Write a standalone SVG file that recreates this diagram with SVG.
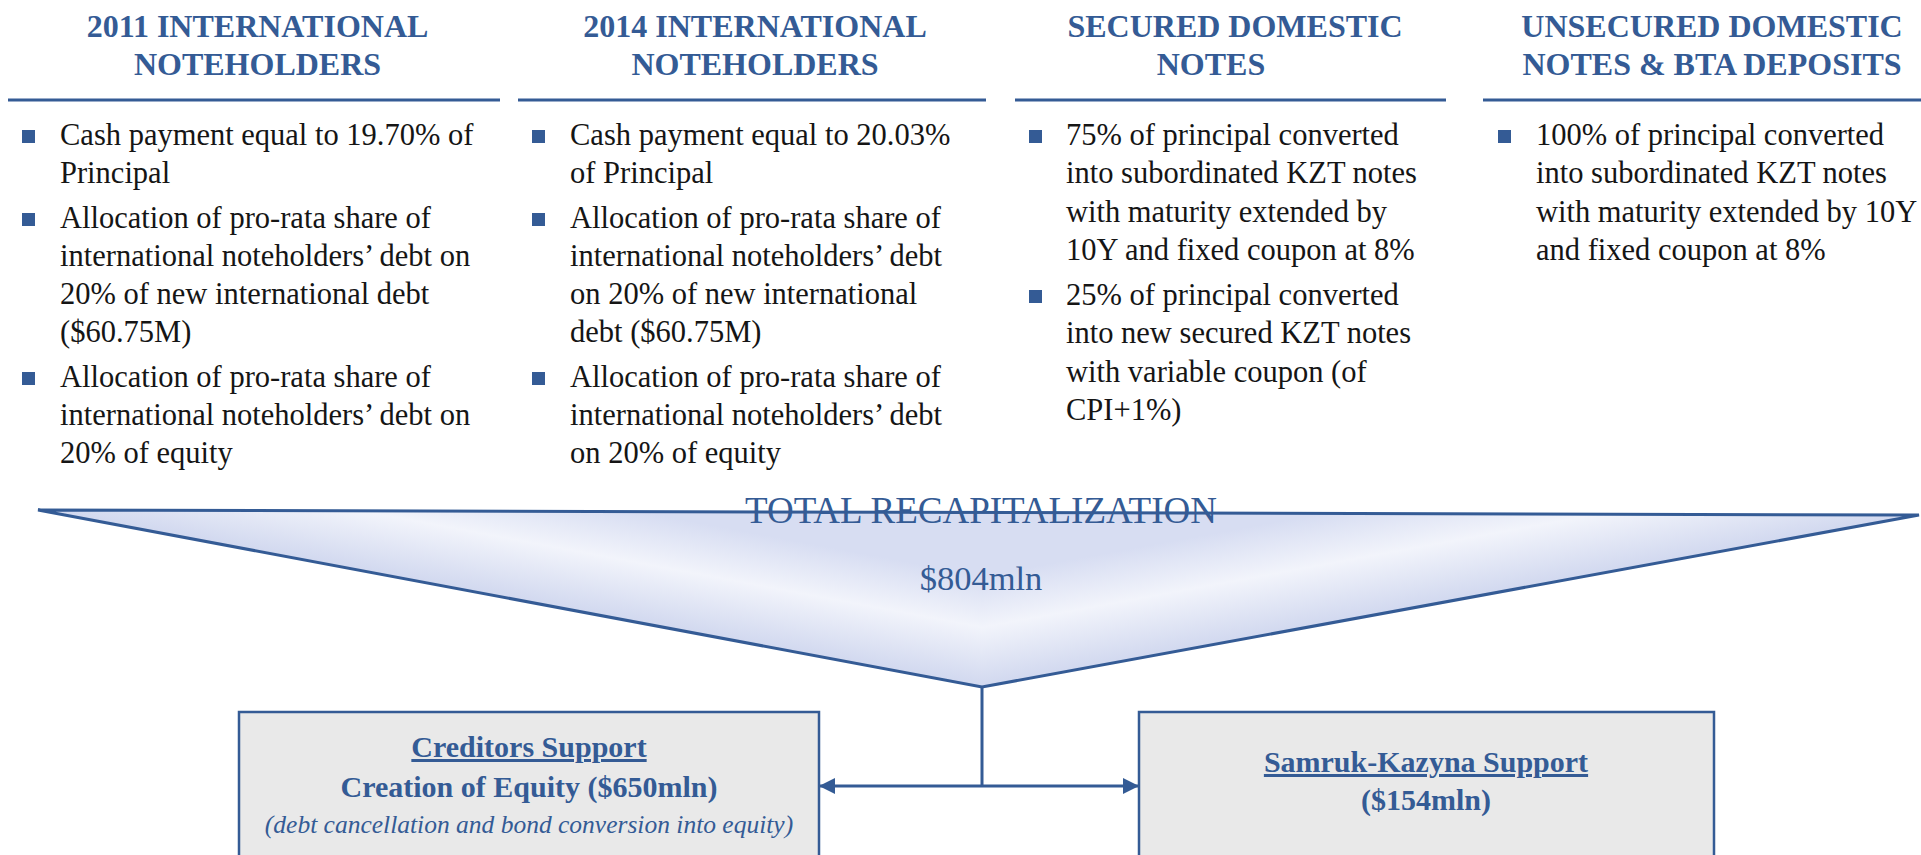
<svg xmlns="http://www.w3.org/2000/svg" width="1921" height="855" viewBox="0 0 1921 855">
  <style>
    .hdr { font-family: "Liberation Serif", "Times New Roman", serif; font-weight: bold; font-size: 32px; fill: #345b95; text-anchor: middle; }
    .rule { stroke: #345b95; stroke-width: 3; }
    .body { font-family: "Liberation Serif", "Times New Roman", serif; font-size: 30.5px; fill: #151515; }
    .bullet { fill: #345b95; }
    .tri-text { font-family: "Liberation Serif", "Times New Roman", serif; fill: #345b95; text-anchor: middle; }
    .box { fill: #e9e9e9; stroke: #345b95; stroke-width: 2.5; }
    .box-title { font-family: "Liberation Serif", "Times New Roman", serif; font-weight: bold; font-size: 30px; fill: #345b95; text-anchor: middle; }
    .box-note { font-family: "Liberation Serif", "Times New Roman", serif; font-style: italic; font-size: 25.5px; fill: #345b95; text-anchor: middle; }
    .conn { stroke: #345b95; stroke-width: 3; fill: none; }
  </style>
  <defs>
    <linearGradient id="fillLeft" gradientUnits="userSpaceOnUse" x1="510" y1="598.5" x2="535.8" y2="460.9">
      <stop offset="0" stop-color="#d1d8ef"/>
      <stop offset="0.42" stop-color="#f2f4fb"/>
      <stop offset="0.78" stop-color="#d7ddf2"/>
      <stop offset="1" stop-color="#d7ddf2"/>
    </linearGradient>
    <linearGradient id="fillRight" gradientUnits="userSpaceOnUse" x1="1450.5" y1="601" x2="1425.2" y2="463.3">
      <stop offset="0" stop-color="#d1d8ef"/>
      <stop offset="0.42" stop-color="#f2f4fb"/>
      <stop offset="0.78" stop-color="#d7ddf2"/>
      <stop offset="1" stop-color="#d7ddf2"/>
    </linearGradient>
    <marker id="arrow" viewBox="0 0 16 16" refX="15" refY="8" markerWidth="16" markerHeight="16" markerUnits="userSpaceOnUse" orient="auto">
      <path d="M0,0 L16,8 L0,16 Z" fill="#345b95"/>
    </marker>
  </defs>

  <!-- Column 1: 2011 international noteholders -->
  <g id="col-2011">
    <text class="hdr" x="257.5" y="37">2011 INTERNATIONAL</text>
    <text class="hdr" x="257.5" y="75">NOTEHOLDERS</text>
    <line class="rule" x1="8" y1="100" x2="500" y2="100"/>
    <rect class="bullet" x="22" y="130" width="13" height="13"/>
    <rect class="bullet" x="22" y="213" width="13" height="13"/>
    <rect class="bullet" x="22" y="372" width="13" height="13"/>
    <text class="body" x="60" y="145">Cash payment equal to 19.70% of</text>
    <text class="body" x="60" y="183">Principal</text>
    <text class="body" x="60" y="228">Allocation of pro-rata share of</text>
    <text class="body" x="60" y="266">international noteholders’ debt on</text>
    <text class="body" x="60" y="304">20% of new international debt</text>
    <text class="body" x="60" y="342">($60.75M)</text>
    <text class="body" x="60" y="387">Allocation of pro-rata share of</text>
    <text class="body" x="60" y="425">international noteholders’ debt on</text>
    <text class="body" x="60" y="463">20% of equity</text>
  </g>

  <!-- Column 2: 2014 international noteholders -->
  <g id="col-2014">
    <text class="hdr" x="755" y="37">2014 INTERNATIONAL</text>
    <text class="hdr" x="755" y="75">NOTEHOLDERS</text>
    <line class="rule" x1="518" y1="100" x2="986" y2="100"/>
    <rect class="bullet" x="532" y="130" width="13" height="13"/>
    <rect class="bullet" x="532" y="213" width="13" height="13"/>
    <rect class="bullet" x="532" y="372" width="13" height="13"/>
    <text class="body" x="570" y="145">Cash payment equal to 20.03%</text>
    <text class="body" x="570" y="183">of Principal</text>
    <text class="body" x="570" y="228">Allocation of pro-rata share of</text>
    <text class="body" x="570" y="266">international noteholders’ debt</text>
    <text class="body" x="570" y="304">on 20% of new international</text>
    <text class="body" x="570" y="342">debt ($60.75M)</text>
    <text class="body" x="570" y="387">Allocation of pro-rata share of</text>
    <text class="body" x="570" y="425">international noteholders’ debt</text>
    <text class="body" x="570" y="463">on 20% of equity</text>
  </g>

  <!-- Column 3: secured domestic notes -->
  <g id="col-secured">
    <text class="hdr" x="1235" y="37">SECURED DOMESTIC</text>
    <text class="hdr" x="1211" y="75">NOTES</text>
    <line class="rule" x1="1015" y1="100" x2="1446" y2="100"/>
    <rect class="bullet" x="1029" y="130" width="13" height="13"/>
    <rect class="bullet" x="1029" y="290" width="13" height="13"/>
    <text class="body" x="1066" y="145">75% of principal converted</text>
    <text class="body" x="1066" y="183">into subordinated KZT notes</text>
    <text class="body" x="1066" y="222">with maturity extended by</text>
    <text class="body" x="1066" y="260">10Y and fixed coupon at 8%</text>
    <text class="body" x="1066" y="305">25% of principal converted</text>
    <text class="body" x="1066" y="343">into new secured KZT notes</text>
    <text class="body" x="1066" y="382">with variable coupon (of</text>
    <text class="body" x="1066" y="420">CPI+1%)</text>
  </g>

  <!-- Column 4: unsecured domestic notes and BTA deposits -->
  <g id="col-unsecured">
    <text class="hdr" x="1712" y="37">UNSECURED DOMESTIC</text>
    <text class="hdr" x="1712" y="75">NOTES &amp; BTA DEPOSITS</text>
    <line class="rule" x1="1483" y1="100" x2="1921" y2="100"/>
    <rect class="bullet" x="1498" y="130" width="13" height="13"/>
    <text class="body" x="1536" y="145">100% of principal converted</text>
    <text class="body" x="1536" y="183">into subordinated KZT notes</text>
    <text class="body" x="1536" y="222">with maturity extended by 10Y</text>
    <text class="body" x="1536" y="260">and fixed coupon at 8%</text>
  </g>

  <!-- Funnel: total recapitalization -->
  <g id="total">
    <polygon points="38,510 982,512.5 982,687" fill="url(#fillLeft)"/>
    <polygon points="981,512.5 1919,515 981,687" fill="url(#fillRight)"/>
    <polygon points="38,510 1919,515 982,687" fill="none" stroke="#345b95" stroke-width="3" stroke-linejoin="miter"/>
    <text class="tri-text" x="981" y="523" font-size="37">TOTAL RECAPITALIZATION</text>
    <text class="tri-text" x="981" y="590" font-size="34.5">$804mln</text>
  </g>

  <!-- Creditors support -->
  <g id="creditors">
    <rect class="box" x="239" y="712" width="580" height="160"/>
    <text class="box-title" x="529" y="757" text-decoration="underline">Creditors Support</text>
    <text class="box-title" x="529" y="797" font-size="31">Creation of Equity ($650mln)</text>
    <text class="box-note" x="529" y="833">(debt cancellation and bond conversion into equity)</text>
  </g>

  <!-- Samruk-Kazyna support -->
  <g id="samruk">
    <rect class="box" x="1139" y="712" width="575" height="160"/>
    <text class="box-title" x="1426" y="772" text-decoration="underline">Samruk-Kazyna Support</text>
    <text class="box-title" x="1426" y="810">($154mln)</text>
  </g>

  <!-- Connectors -->
  <g id="connectors">
    <line class="conn" x1="982" y1="687" x2="982" y2="786"/>
    <line class="conn" x1="982" y1="786" x2="820" y2="786" marker-end="url(#arrow)"/>
    <line class="conn" x1="982" y1="786" x2="1138" y2="786" marker-end="url(#arrow)"/>
  </g>
</svg>
